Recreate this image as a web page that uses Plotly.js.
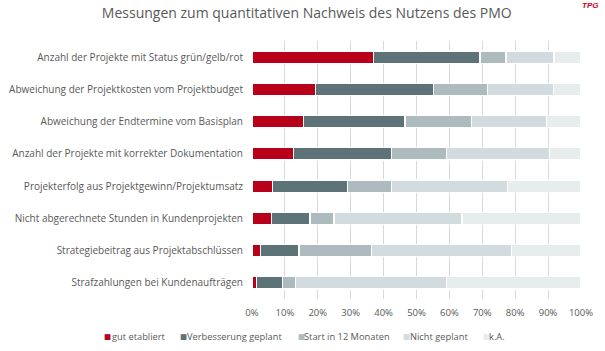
<!DOCTYPE html>
<html><head><meta charset="utf-8">
<script src="https://cdn.plot.ly/plotly-3.0.1.min.js"></script>
<style>html,body{margin:0;padding:0;background:#fff}#c{width:605px;height:351px}</style>
</head><body><div id="c"></div>
<script>
const categories = [
  "Anzahl der Projekte mit Status grün/gelb/rot",
  "Abweichung der Projektkosten vom Projektbudget",
  "Abweichung der Endtermine vom Basisplan",
  "Anzahl der Projekte mit korrekter Dokumentation",
  "Projekterfolg aus Projektgewinn/Projektumsatz",
  "Nicht abgerechnete Stunden in Kundenprojekten",
  "Strategiebeitrag aus Projektabschlüssen",
  "Strafzahlungen bei Kundenaufträgen"
];
const seriesNames = ["gut etabliert","Verbesserung geplant","Start in 12 Monaten","Nicht geplant","k.A."];
const gutEtabliert = [0.369,0.193,0.156,0.126,0.063,0.060,0.026,0.014];
const verbesserung = [0.324,0.358,0.309,0.299,0.227,0.116,0.117,0.079];
const start12 =      [0.079,0.164,0.203,0.165,0.135,0.073,0.221,0.040];
const nichtGeplant = [0.146,0.201,0.226,0.314,0.351,0.389,0.425,0.459];
const ka =           [0.082,0.084,0.106,0.096,0.224,0.362,0.211,0.408];
const tickVals = [0,0.1,0.2,0.3,0.4,0.5,0.6,0.7,0.8,0.9,1];
const tickLabels = ["0%","10%","20%","30%","40%","50%","60%","70%","80%","90%","100%"];

const colors = ["#B8001A","#5E7378","#AEBBBE","#D2DBDD","#E7ECEC"];
const allVals = [gutEtabliert, verbesserung, start12, nichtGeplant, ka];
const font = "Open Sans, Noto Sans, sans-serif";
const W = 605, H = 351, ML = 252, MR = 24, MT = 41, MB = 52;
const PW = W - ML - MR, PH = H - MT - MB;

const traces = allVals.map((v,i)=>({
  type:"bar", orientation:"h", name: seriesNames[i],
  y: categories, x: v,
  marker:{color: colors[i], line:{color:"#ffffff", width:1.2}},
  hoverinfo:"x+name"
}));

// legend drawn as annotations (tight spacing like the reference)
const legendSq = [102,178,296,401,481];
const legendTx = [110,185,302,408,487];
const legendY = 336;
const px = x => (x-ML)/PW, py = y => (H-MB-y)/PH;
const legendAnn = [];
seriesNames.forEach((n,i)=>{
  legendAnn.push({text:"■", xref:"paper", yref:"paper", x:px(legendSq[i]), y:py(legendY),
    xanchor:"left", yanchor:"middle", showarrow:false, font:{family:"DejaVu Sans, sans-serif", size:7.5, color:colors[i]}});
  legendAnn.push({text:n, xref:"paper", yref:"paper", x:px(legendTx[i]), y:py(legendY),
    xanchor:"left", yanchor:"middle", showarrow:false, font:{family:font, size:9.3, color:"#595959"}});
});

const layout = {
  width:W, height:H,
  margin:{l:ML, r:MR, t:MT, b:MB, autoexpand:false},
  barmode:"stack", bargap:0.62, showlegend:false,
  paper_bgcolor:"#fff", plot_bgcolor:"#fff",
  title:{text:"Messungen zum quantitativen Nachweis des Nutzens des PMO",
    font:{family:font, size:14, color:"#595959"}, x:0.507, xanchor:"center", y:0.962, yanchor:"middle"},
  xaxis:{range:[0,1], tickvals:tickVals, ticktext:tickLabels, showgrid:true,
    gridcolor:"#D9D9D9", gridwidth:1, zeroline:false, showline:false, ticklabelstandoff:6,
    tickfont:{family:font, size:9.5, color:"#595959"}, ticks:"", automargin:false},
  yaxis:{autorange:"reversed", showgrid:false, zeroline:false, showline:false, automargin:false,
    tickfont:{family:font, size:10, color:"#595959"}, ticks:"", ticklabelstandoff:8},
  annotations:[{text:"<b><i>TPG</i></b>", xref:"paper", yref:"paper", x:px(600), y:py(6),
    xanchor:"right", yanchor:"middle", showarrow:false,
    font:{family:"Liberation Sans, sans-serif", size:8, color:"#D0001E"}}].concat(legendAnn)
};
Plotly.newPlot("c", traces, layout, {displayModeBar:false, staticPlot:true});
</script>
</body></html>
